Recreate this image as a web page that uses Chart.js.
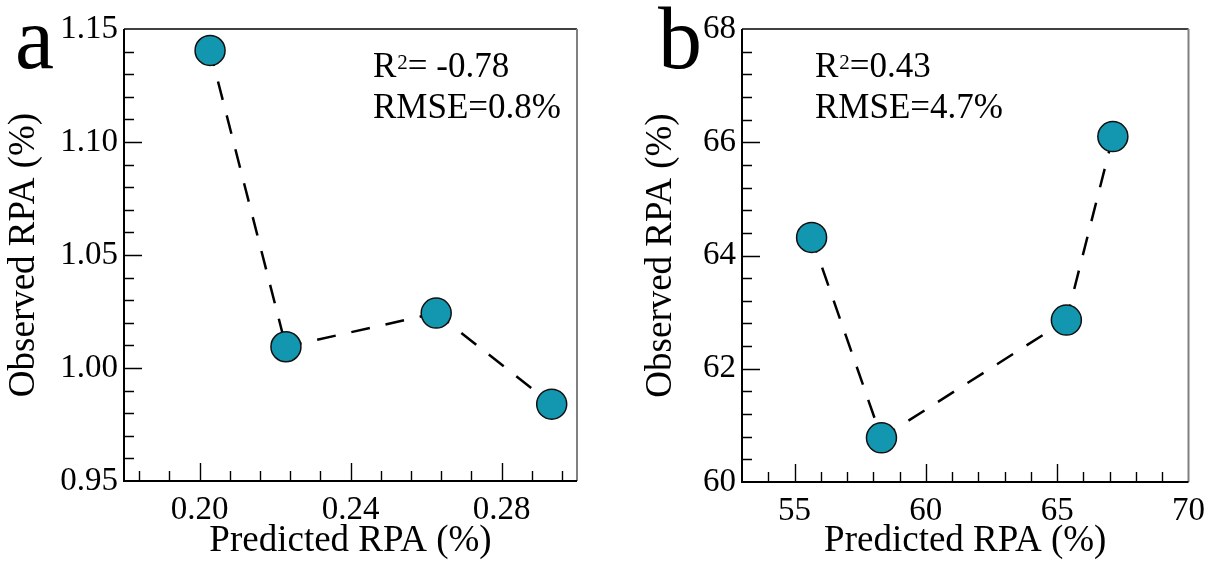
<!DOCTYPE html>
<html>
<head>
<meta charset="utf-8">
<script src="https://cdn.jsdelivr.net/npm/chart.js@4.4.0/dist/chart.umd.min.js"></script>
<style>
  html, body { margin: 0; padding: 0; background: #fff; }
  #wrap { position: relative; width: 1215px; height: 563px; overflow: hidden; }
  canvas { position: absolute; top: 0; }
  #chartA { left: 0; }
  #chartB { left: 615px; }
</style>
</head>
<body>
<div id="wrap">
  <canvas id="chartA" width="600" height="563"></canvas>
  <canvas id="chartB" width="600" height="563"></canvas>
</div>
<script>
// panel a
const predA = [0.2028, 0.2229, 0.2627, 0.2933];
const obsA = [1.1405, 1.0094, 1.0243, 0.9840];
const xTicksA = [0.20, 0.24, 0.28];
const yTicksA = [0.95, 1.00, 1.05, 1.10, 1.15];
const r2A = '= -0.78';
const rmseA = 'RMSE=0.8%';

// panel b
const predB = [55.65, 58.31, 65.35, 67.12];
const obsB = [64.32, 60.78, 62.86, 66.10];
const xTicksB = [55, 60, 65, 70];
const yTicksB = [60, 62, 64, 66, 68];
const r2B = '=0.43';
const rmseB = 'RMSE=4.7%';

const serif = "'Liberation Serif', 'Times New Roman', serif";

function minorValues(min, max, first, step) {
  const out = [];
  const k0 = Math.ceil((min - first) / step + 1e-6);
  const k1 = Math.floor((max - first) / step - 1e-6);
  for (let k = k0; k <= k1; k++) out.push(first + k * step);
  return out;
}

// inward major/minor ticks + box frame
const axesPlugin = {
  id: 'axesFrame',
  beforeDatasetsDraw(chart, args, opts) {
    const {ctx, chartArea: area, scales: {x, y}} = chart;
    const isMajor = (v, majors, step) => majors.some(m => Math.abs(m - v) < step / 10);
    ctx.save();
    ctx.strokeStyle = '#000';
    ctx.lineWidth = 1.4;
    ctx.beginPath();
    minorValues(x.min, x.max, opts.xMajor[0], opts.xStep).forEach(v => {
      const px = Math.round(x.getPixelForValue(v)) + 0.5;
      const len = isMajor(v, opts.xMajor, opts.xStep) ? 18 : 10;
      ctx.moveTo(px, area.bottom);
      ctx.lineTo(px, area.bottom - len);
    });
    minorValues(y.min, y.max, opts.yMajor[0], opts.yStep).forEach(v => {
      const py = Math.round(y.getPixelForValue(v)) + 0.5;
      const len = isMajor(v, opts.yMajor, opts.yStep) ? 18 : 10;
      ctx.moveTo(area.left, py);
      ctx.lineTo(area.left + len, py);
    });
    ctx.stroke();

    ctx.lineWidth = 1.5;
    ctx.beginPath();
    ctx.moveTo(area.left, area.top);
    ctx.lineTo(area.right, area.top);
    ctx.stroke();

    ctx.strokeStyle = '#808080';
    ctx.lineWidth = 2;
    ctx.beginPath();
    ctx.moveTo(area.right, area.top);
    ctx.lineTo(area.right, area.bottom);
    ctx.stroke();

    ctx.strokeStyle = '#000';
    ctx.lineWidth = 2;
    ctx.beginPath();
    ctx.moveTo(area.left, area.top);
    ctx.lineTo(area.left, area.bottom);
    ctx.lineTo(area.right, area.bottom);
    ctx.stroke();
    ctx.restore();
  }
};

// panel letter and R2 / RMSE text
const textPlugin = {
  id: 'panelText',
  afterDraw(chart, args, opts) {
    const ctx = chart.ctx;
    ctx.save();
    ctx.fillStyle = '#000';
    ctx.textAlign = 'left';
    ctx.textBaseline = 'alphabetic';
    ctx.font = '88px ' + serif;
    ctx.fillText(opts.letter, opts.letterX, 68);
    let x = opts.statX;
    ctx.font = '35px ' + serif;
    ctx.fillText('R', x, 77);
    x += ctx.measureText('R').width + 1;
    ctx.font = '21px ' + serif;
    ctx.fillText('2', x, 69);
    x += ctx.measureText('2').width;
    ctx.font = '35px ' + serif;
    ctx.fillText(opts.r2, x, 77);
    ctx.fillText(opts.rmse, opts.statX, 118);
    ctx.restore();
  }
};

function makeChart(id, xs, ys, cfg) {
  const points = xs.map((v, i) => ({x: v, y: ys[i]}));
  return new Chart(document.getElementById(id), {
    type: 'scatter',
    data: {
      datasets: [{
        data: points,
        showLine: true,
        borderColor: '#000',
        borderWidth: 2.5,
        borderDash: [19, 16],
        segment: { borderDashOffset: c => 3 + c.p0DataIndex * 0.001 },
        pointRadius: 15,
        pointHoverRadius: 15,
        pointBackgroundColor: '#1397b0',
        pointBorderColor: '#111',
        pointBorderWidth: 1.5,
        clip: false
      }]
    },
    options: {
      responsive: false,
      animation: false,
      events: [],
      layout: { padding: { left: 0, top: 29, right: cfg.padRight, bottom: 0 } },
      plugins: {
        legend: { display: false },
        tooltip: { enabled: false },
        axesFrame: { xMajor: cfg.xTicks, yMajor: cfg.yTicks, xStep: cfg.xStep, yStep: cfg.yStep },
        panelText: { letter: cfg.letter, letterX: cfg.letterX, statX: cfg.statX, r2: cfg.r2, rmse: cfg.rmse }
      },
      scales: {
        x: {
          type: 'linear',
          min: cfg.xMin,
          max: cfg.xMax,
          afterBuildTicks: s => { s.ticks = cfg.xTicks.map(v => ({value: v})); },
          afterFit: s => { s.height = cfg.xHeight; },
          grid: { display: false, drawTicks: false },
          border: { display: false },
          ticks: {
            color: '#000',
            padding: 10,
            autoSkip: false,
            maxRotation: 0,
            font: { family: serif, size: 33 },
            callback: v => cfg.fmtX(v)
          },
          title: {
            display: true,
            text: 'Predicted RPA (%)',
            color: '#000',
            font: { family: serif, size: 37 },
            padding: { top: 0, bottom: 0 }
          }
        },
        y: {
          type: 'linear',
          min: cfg.yMin,
          max: cfg.yMax,
          afterBuildTicks: s => { s.ticks = cfg.yTicks.map(v => ({value: v})); },
          afterFit: s => { s.width = cfg.yWidth; },
          grid: { display: false, drawTicks: false },
          border: { display: false },
          ticks: {
            color: '#000',
            padding: 6,
            autoSkip: false,
            font: { family: serif, size: 33 },
            callback: v => cfg.fmtY(v)
          },
          title: {
            display: true,
            text: 'Observed RPA (%)',
            color: '#000',
            font: { family: serif, size: 37 },
            padding: { top: cfg.yTitlePad, bottom: 0 }
          }
        }
      }
    },
    plugins: [axesPlugin, textPlugin]
  });
}

makeChart('chartA', predA, obsA, {
  xMin: 0.18, xMax: 0.30, xTicks: xTicksA, xStep: 0.008,
  yMin: 0.95, yMax: 1.15, yTicks: yTicksA, yStep: 0.01,
  fmtX: v => v.toFixed(2), fmtY: v => v.toFixed(2),
  padRight: 23, xHeight: 82, yWidth: 124, yTitlePad: 2,
  letter: 'a', letterX: 15, statX: 373, r2: r2A, rmse: rmseA
});

makeChart('chartB', predB, obsB, {
  xMin: 53, xMax: 70, xTicks: xTicksB, xStep: 1,
  yMin: 60, yMax: 68, yTicks: yTicksB, yStep: 0.4,
  fmtX: v => String(v), fmtY: v => String(v),
  padRight: 20, xHeight: 81, yWidth: 127, yTitlePad: 24,
  letter: 'b', letterX: 43, statX: 200, r2: r2B, rmse: rmseB
});
</script>
</body>
</html>
